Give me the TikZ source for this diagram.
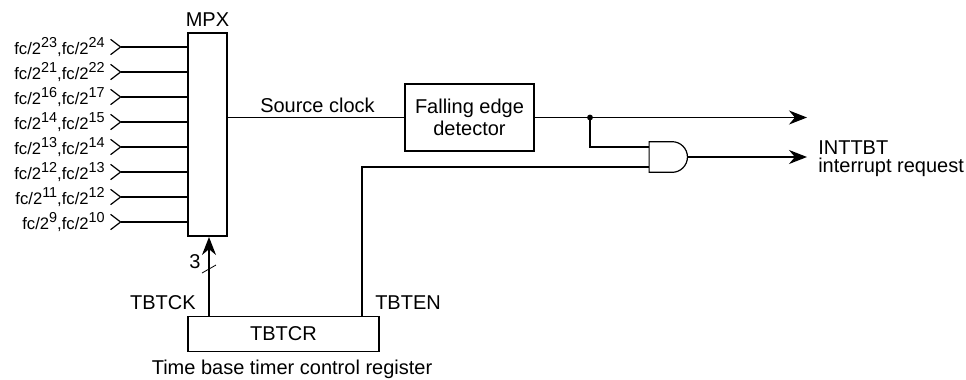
\documentclass[tikz,border=0pt]{standalone}
\usepackage{fontspec}
\setmainfont{Liberation Sans}
\usetikzlibrary{arrows.meta,shapes.gates.logic.US}
\newcommand{\fcpair}[2]{fc/2\raisebox{0.42em}{\fontsize{10.8}{11}\selectfont #1},fc/2\raisebox{0.42em}{\fontsize{10.8}{11}\selectfont #2}}
\begin{document}
\begin{tikzpicture}[
        x=0.75pt, y=-0.75pt,
        font=\fontsize{15}{17}\selectfont,
        box/.style={draw, line width=1.1pt, inner sep=0pt, align=center},
        src/.style={anchor=east, inner sep=0pt, font=\fontsize{12.5}{13}\selectfont},
        chev/.style={{Straight Barb[reversed, length=7.5pt, width=11.5pt, line width=0.9pt]}-, line width=0.9pt},
        edge/.style={-{Stealth[length=13.5pt, width=10.5pt]}, line width=1pt},
        wire/.style={line width=0.9pt},
        lbl/.style={inner sep=0pt}
    ]
        \useasboundingbox (0,0) rectangle (966,379);

        % Multiplexer
        \node[box, minimum width=29pt, minimum height=152pt] (mpx) at (207.5,134.5) {};
        \node[lbl] (mpxlbl) at (207.5,20) {MPX};

        % Clock inputs
        \node[src] (in1) at (105,47) {\fcpair{23}{24}};
        \node[src] (in2) at (105,72) {\fcpair{21}{22}};
        \node[src] (in3) at (105,97) {\fcpair{16}{17}};
        \node[src] (in4) at (105,122) {\fcpair{14}{15}};
        \node[src] (in5) at (105,147) {\fcpair{13}{14}};
        \node[src] (in6) at (105,172) {\fcpair{12}{13}};
        \node[src] (in7) at (105,197) {\fcpair{11}{12}};
        \node[src] (in8) at (105,222) {\fcpair{9}{10}};

        % Falling edge detector
        \node[box, minimum width=97pt, minimum height=50pt] (det) at (469.5,117.5) {Falling edge\\detector};
        \node[lbl] (srclbl) at (317.5,105) {Source clock};

        % Gate and register
        \node[and gate US, draw, logic gate inputs=nn, line width=0.9pt, minimum width=28pt, minimum height=23pt, inner sep=0pt] (gate) at (667,157) {};
        \node[box, minimum width=143pt, minimum height=26.5pt] (reg) at (283.5,334) {TBTCR};
        \node[lbl] (reglbl) at (292,369.5) {Time base timer control register};
        \node[lbl, anchor=east] (cklbl) at (196,303) {TBTCK};
        \node[lbl, anchor=west] (enlbl) at (375,303) {TBTEN};
        \node[lbl] (three) at (195,262) {3};
        \node[lbl, anchor=west, align=left, font=\fontsize{15}{13.5}\selectfont] (intlbl) at (818,159) {INTTBT\\interrupt request};

        % Coordinates for free ends
        \coordinate (tap) at (590,117.5);
        \coordinate (outa) at (807,117.5);
        \coordinate (outb) at (807,157);
        \coordinate (ckfoot) at (209,316);
        \coordinate (ckhead) at (209,237);
        \coordinate (enfoot) at (362,316);
        \coordinate (slasha) at (202,273);
        \coordinate (slashb) at (216,265);
        \coordinate (gatea) at ([yshift=7.5pt]gate.west);
        \coordinate (gateb) at ([yshift=-7.5pt]gate.west);

        % Edges
        \draw[chev] (110,47) -- (in1.east -| mpx.west);
        \draw[chev] (110,72) -- (in2.east -| mpx.west);
        \draw[chev] (110,97) -- (in3.east -| mpx.west);
        \draw[chev] (110,122) -- (in4.east -| mpx.west);
        \draw[chev] (110,147) -- (in5.east -| mpx.west);
        \draw[chev] (110,172) -- (in6.east -| mpx.west);
        \draw[chev] (110,197) -- (in7.east -| mpx.west);
        \draw[chev] (110,222) -- (in8.east -| mpx.west);

        \draw[wire] (mpx.east |- det.west) -- (det.west);
        \draw[edge] (det.east) -- (outa);
        \fill (tap) circle (2.2pt);
        \draw[wire] (tap) |- (gatea);
        \draw[wire] (gateb) -| (enfoot);
        \draw[edge] (gate.output) -- (outb);
        \draw[edge] (ckfoot) -- (ckhead);
        \draw[line width=0.6pt] (slasha) -- (slashb);

    \end{tikzpicture}
\end{document}
